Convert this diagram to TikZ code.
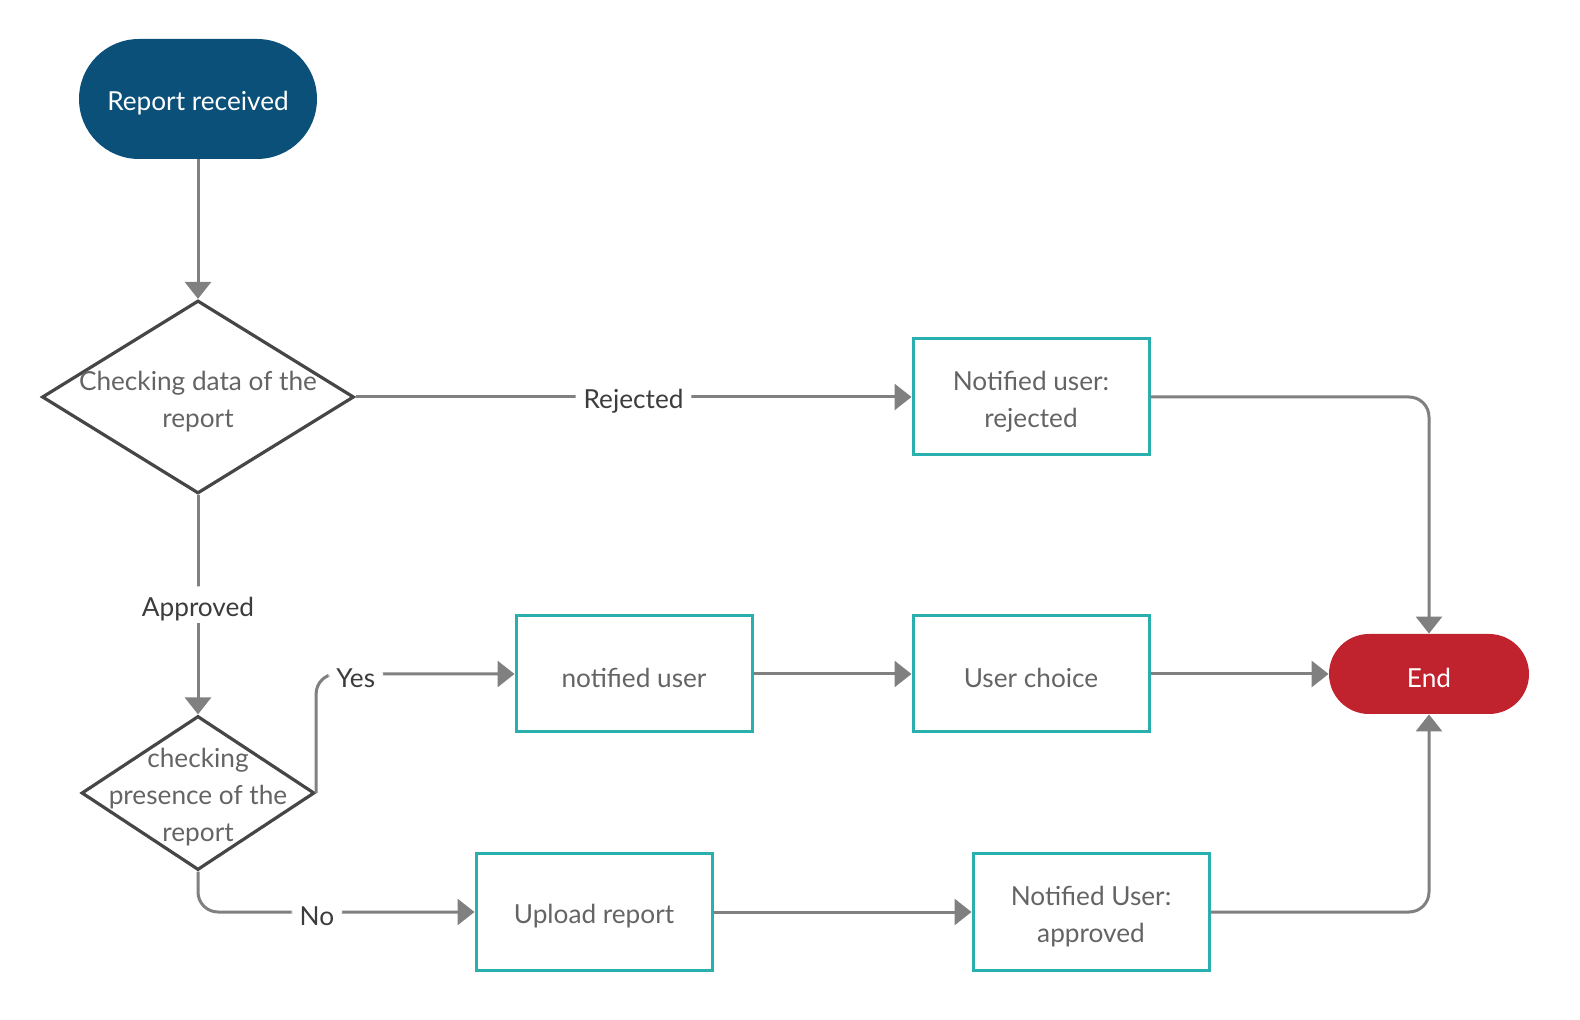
\documentclass[tikz,border=0pt]{standalone}
\usepackage{fontspec}
\setmainfont{Lato}
\usetikzlibrary{shapes.geometric,arrows.meta}
\definecolor{startblue}{RGB}{10,80,121}
\definecolor{endred}{RGB}{193,35,46}
\definecolor{boxteal}{RGB}{42,175,175}
\definecolor{linegray}{RGB}{128,128,128}
\definecolor{textgray}{RGB}{100,100,100}
\definecolor{labelgray}{RGB}{60,60,60}
\definecolor{edgegray}{RGB}{70,70,70}
\newcommand{\lineup}{\rule{0pt}{14pt}}
\begin{document}
\begin{tikzpicture}[x=0.5pt,y=-0.5pt]
\tikzstyle{every node}+=[inner sep=0pt, font=\fontsize{13.1}{18.5}\selectfont, align=center, execute at begin node=\lineup]
\tikzstyle{terminal}=[fill=#1, text=white]
\tikzstyle{stepbox}=[draw=boxteal, line width=1.5pt, minimum width=118pt, minimum height=58pt, text=textgray]
\tikzstyle{decision}=[diamond, draw=edgegray, line width=1.6pt]
\tikzstyle{flow}=[draw=linegray, line width=1.5pt, rounded corners=10pt, -{Triangle[length=8.5pt,width=13pt]}]
\tikzstyle{tag}=[fill=white, text=labelgray, inner xsep=4pt, inner ysep=1pt]
\useasboundingbox (0,0) rectangle (1580,1020);
\node [terminal=startblue, minimum width=119pt, minimum height=60pt, rounded corners=30pt] (start) at (198,99) {Report received};
\node [decision, minimum width=156pt, minimum height=96.5pt,
  label={[text=textgray]center:\lineup Checking data of the\\report}] (chkdata) at (198,397) {};
\node [decision, minimum width=116.5pt, minimum height=77pt,
  label={[text=textgray]center:\lineup checking\\presence of the\\report}] (chkpres) at (198,793) {};
\node [stepbox] (rejected) at (1031,397) {\lineup Notified user:\\rejected};
\node [stepbox] (notified) at (634,674) {notified user};
\node [stepbox] (choice) at (1031,674) {User choice};
\node [stepbox] (upload) at (594,912) {Upload report};
\node [stepbox] (approved) at (1091,912) {\lineup Notified User:\\approved};
\node [terminal=endred, minimum width=100pt, minimum height=40pt, rounded corners=20pt] (end) at (1429,674) {End};
\draw [flow] (start.south) -- (chkdata.north);
\draw [flow] (chkdata.east) -- node [tag] {Rejected} (rejected.west);
\draw [flow] (chkdata.south) -- node [tag] {Approved} (chkpres.north);
\draw [flow] (chkpres.east) |- node [tag, pos=0.6] {Yes} (notified.west);
\draw [flow] (chkpres.south) |- node [tag, pos=0.715] {No} (upload.west);
\draw [flow] (notified.east) -- (choice.west);
\draw [flow] (choice.east) -- (end.west);
\draw [flow] (upload.east) -- (approved.west);
\draw [flow] (rejected.east) -| (end.north);
\draw [flow] (approved.east) -| (end.south);
\end{tikzpicture}
\end{document}
